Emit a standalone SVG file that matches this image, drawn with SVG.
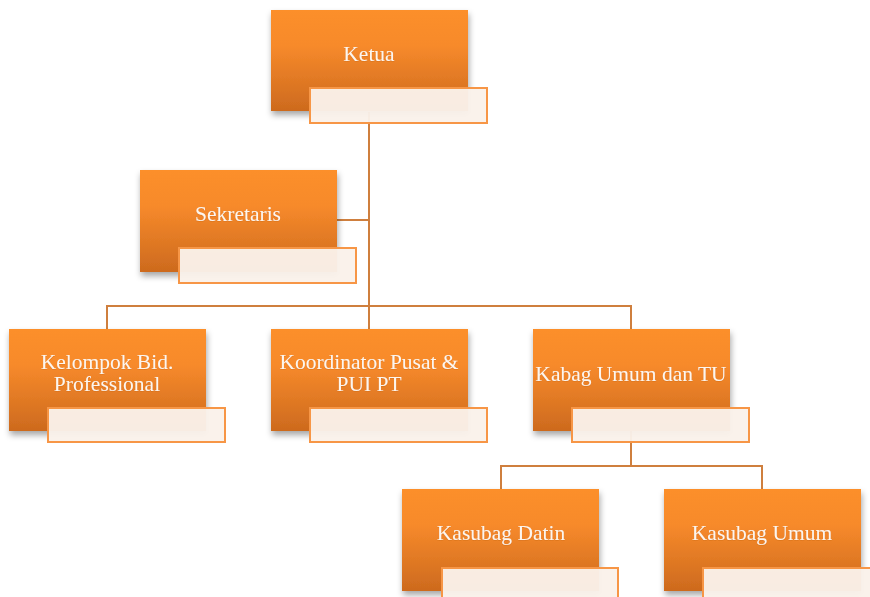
<svg xmlns="http://www.w3.org/2000/svg" width="870" height="597" viewBox="0 0 870 597">
<defs>
<linearGradient id="og" x1="0" y1="0" x2="0" y2="1">
<stop offset="0" stop-color="#fc8f2a"/>
<stop offset="0.35" stop-color="#f78a2b"/>
<stop offset="1" stop-color="#cd6a1e"/>
</linearGradient>
<filter id="sh" x="-10%" y="-10%" width="125%" height="130%">
<feDropShadow dx="1" dy="4" stdDeviation="3" flood-color="#000" flood-opacity="0.35"/>
</filter>
<filter id="ts" x="-10%" y="-20%" width="120%" height="140%">
<feDropShadow dx="0" dy="0.5" stdDeviation="0.6" flood-color="#b85810" flood-opacity="0.5"/>
</filter>
</defs>
<style>
.box{fill:url(#og);filter:url(#sh)}
.lbl{fill:#faf1ea;fill-opacity:0.96;stroke:#f79646;stroke-width:2}
.t{font-family:"Liberation Serif","Times New Roman",serif;font-size:21.5px;fill:#fdf6ee;text-anchor:middle;filter:url(#ts)}
.c{fill:none;stroke:#cf7f3e;stroke-width:2}
</style>
<rect width="870" height="597" fill="#fff"/>
<g id="connectors">
<path class="c" d="M369 112 V306"/>
<path class="c" d="M337 220 H369"/>
<path class="c" d="M107 329 V306 H631 V329"/>
<path class="c" d="M369 306 V329"/>
<path class="c" d="M631 431 V466"/>
<path class="c" d="M501 489 V466 H762 V489"/>
</g>
<g id="ketua">
<rect class="box" x="271" y="10" width="197" height="101"/>
<rect class="lbl" x="310" y="88" width="177" height="35"/>
<text class="t" x="369" y="61">Ketua</text>
</g>
<g id="sekretaris">
<rect class="box" x="140" y="170" width="197" height="102"/>
<rect class="lbl" x="179" y="248" width="177" height="35"/>
<text class="t" x="238" y="221">Sekretaris</text>
</g>
<g id="kelompok">
<rect class="box" x="9" y="329" width="197" height="102"/>
<rect class="lbl" x="48" y="408" width="177" height="34"/>
<text class="t" x="107" y="369">Kelompok Bid.</text>
<text class="t" x="107" y="391">Professional</text>
</g>
<g id="koordinator">
<rect class="box" x="271" y="329" width="197" height="102"/>
<rect class="lbl" x="310" y="408" width="177" height="34"/>
<text class="t" x="369" y="369">Koordinator Pusat &amp;</text>
<text class="t" x="369" y="391">PUI PT</text>
</g>
<g id="kabag">
<rect class="box" x="533" y="329" width="197" height="102"/>
<rect class="lbl" x="572" y="408" width="177" height="34"/>
<text class="t" x="631" y="381">Kabag Umum dan TU</text>
</g>
<g id="datin">
<rect class="box" x="402" y="489" width="197" height="102"/>
<rect class="lbl" x="442" y="568" width="176" height="40"/>
<text class="t" x="501" y="540">Kasubag Datin</text>
</g>
<g id="umum">
<rect class="box" x="664" y="489" width="197" height="102"/>
<rect class="lbl" x="703" y="568" width="180" height="40"/>
<text class="t" x="762" y="540">Kasubag Umum</text>
</g>
</svg>
